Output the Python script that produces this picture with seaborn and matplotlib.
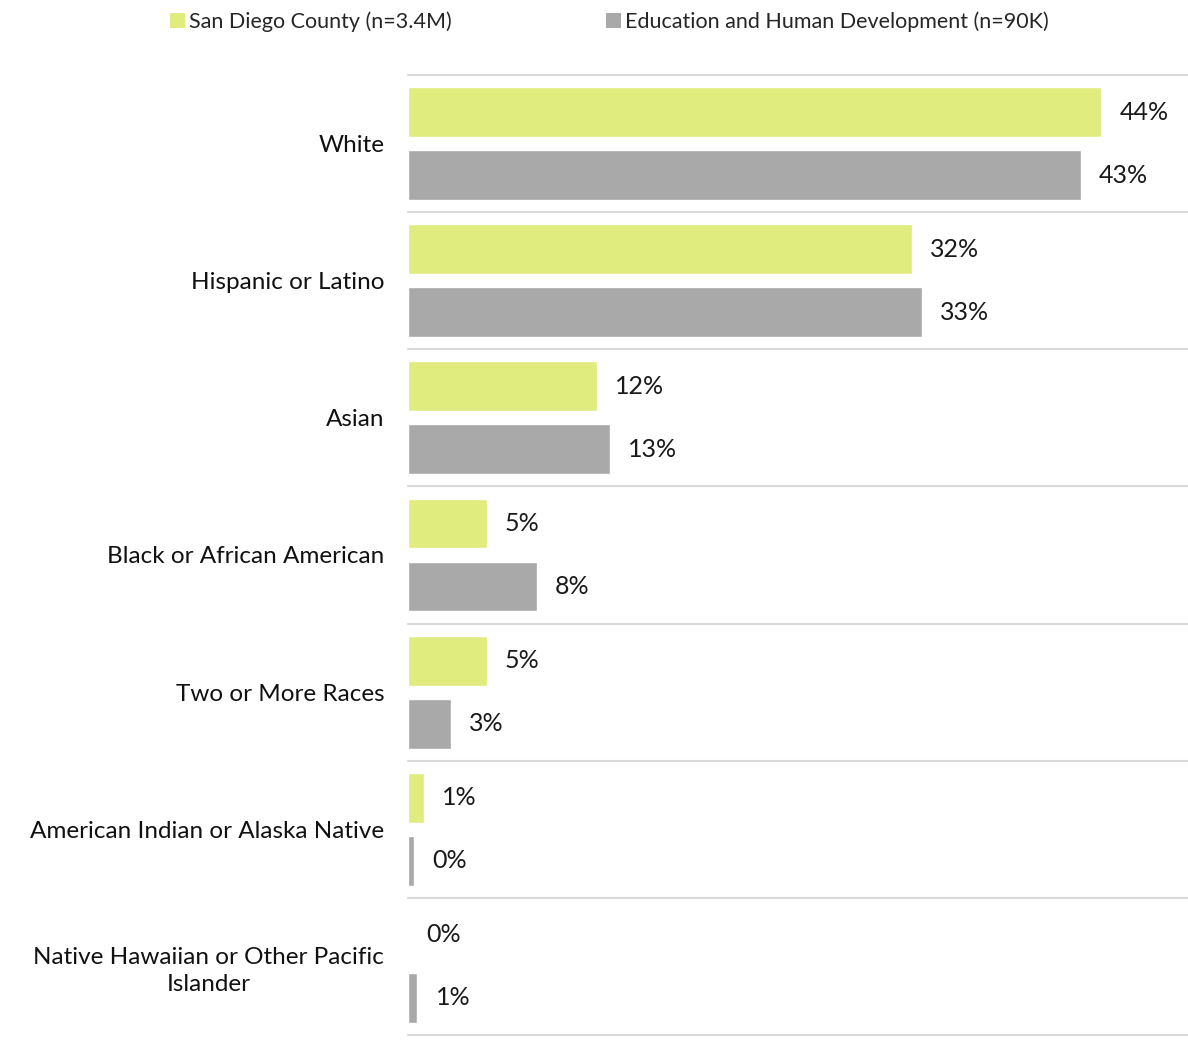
import pandas as pd
import numpy as np
import matplotlib.pyplot as plt
import seaborn as sns
from matplotlib.patches import Patch

# Data (percent)
categories = ["White", "Hispanic or Latino", "Asian", "Black or African American",
              "Two or More Races", "American Indian or Alaska Native",
              "Native Hawaiian or Other Pacific\nIslander"]
san_diego = [44.0, 32.0, 12.0, 5.0, 5.0, 1.0, 0.0]
ehd = [42.7, 32.6, 12.8, 8.2, 2.7, 0.4, 0.6]
series = ["San Diego County (n=3.4M)", "Education and Human Development (n=90K)"]
colors = ["#E1EC7E", "#A9A9A9"]

df = pd.DataFrame({
    "race": categories * 2,
    "pct": san_diego + ehd,
    "group": [series[0]] * len(categories) + [series[1]] * len(categories),
})

sns.set_style("white")
plt.rcParams['font.family'] = ['Lato', 'DejaVu Sans']

fig = plt.figure(figsize=(11.88, 10.4), dpi=100)
ax = fig.add_axes([0.3434, 0.0048, 0.6566, 0.9231])

sns.barplot(data=df, y="race", x="pct", hue="group", palette=colors, orient="h",
            width=0.92, gap=0.21, saturation=1, ax=ax, legend=False)

# value labels
for cont in ax.containers:
    ax.bar_label(cont, labels=[f"{v:.0f}%" for v in cont.datavalues],
                 padding=13, fontsize=18, color="#1a1a1a")

ax.set_xlim(0, 49.5)
ax.set_ylim(len(categories) - 0.5, -0.5)
ax.set_xlabel("")
ax.set_ylabel("")
ax.set_xticks([])
ax.tick_params(axis="y", length=0, pad=17, labelsize=17.5, labelcolor="#111111")
for lbl in ax.get_yticklabels():
    lbl.set_multialignment("center")
    lbl.set_linespacing(1.35)
for s in ax.spines.values():
    s.set_visible(False)

# separator lines between categories
for b in np.arange(-0.5, len(categories), 1.0):
    ax.axhline(b, color="#D9D9D9", lw=1.5, zorder=0, clip_on=False)

handles = [Patch(facecolor=c, edgecolor="none") for c in colors]
fig.legend(handles, series, loc="upper left", bbox_to_anchor=(0.127, 1.008), ncol=2,
           frameon=False, fontsize=15.5, handlelength=0.7, handleheight=0.7,
           handletextpad=0.15, columnspacing=7.2)

fig.savefig("out.png", dpi=100)
